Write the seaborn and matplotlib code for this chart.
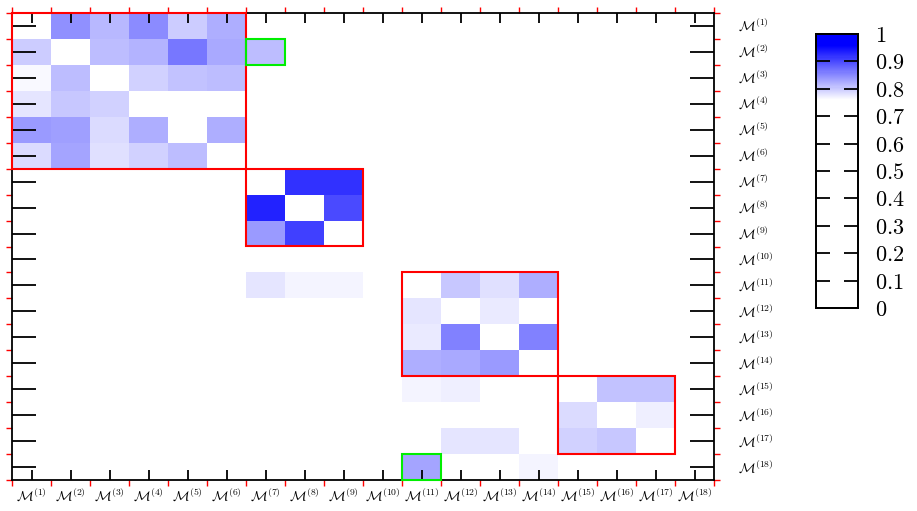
import numpy as np
import pandas as pd
import seaborn as sns
import matplotlib
matplotlib.use("Agg")
import matplotlib.pyplot as plt
from matplotlib.colors import LinearSegmentedColormap
from matplotlib.patches import Rectangle

# Model labels (rows and columns share the same ordering)
models = [rf"$\mathcal{{M}}^{{({k})}}$" for k in range(1, 19)]

# Non-zero pairwise weights: row index, column index (1-based), value
row_idx = [1, 1, 1, 1, 1,
           2, 2, 2, 2, 2, 2,
           3, 3, 3, 3, 3,
           4, 4, 4,
           5, 5, 5, 5, 5,
           6, 6, 6, 6, 6,
           7, 7,
           8, 8,
           9, 9,
           11, 11, 11, 11, 11, 11,
           12, 12,
           13, 13, 13,
           14, 14, 14,
           15, 15, 15, 15,
           16, 16,
           17, 17, 17, 17,
           18, 18]
col_idx = [2, 3, 4, 5, 6,
           1, 3, 4, 5, 6, 7,
           1, 2, 4, 5, 6,
           1, 2, 3,
           1, 2, 3, 4, 6,
           1, 2, 3, 4, 5,
           8, 9,
           7, 9,
           7, 8,
           7, 8, 9, 12, 13, 14,
           11, 13,
           11, 12, 14,
           11, 12, 13,
           11, 12, 16, 17,
           15, 17,
           12, 13, 15, 16,
           11, 14]
weight = [0.847, 0.813, 0.848, 0.800, 0.822,
          0.800, 0.812, 0.818, 0.864, 0.827, 0.809,
          0.762, 0.812, 0.795, 0.805, 0.812,
          0.780, 0.801, 0.795,
          0.839, 0.835, 0.786, 0.822, 0.824,
          0.789, 0.832, 0.784, 0.793, 0.809,
          0.920, 0.920,
          0.933, 0.900,
          0.839, 0.907,
          0.780, 0.769, 0.769, 0.802, 0.782, 0.822,
          0.780, 0.775,
          0.776, 0.858, 0.856,
          0.824, 0.826, 0.838,
          0.769, 0.773, 0.805, 0.805,
          0.786, 0.770,
          0.778, 0.781, 0.794, 0.801,
          0.830, 0.767]

# Clusters (first model index, size) and highlighted single cells (row, col), 1-based
cluster_start = [1, 7, 11, 15]
cluster_size = [6, 3, 4, 3]
highlight_row = [2, 18]
highlight_col = [7, 11]

cbar_ticks = [0, 0.1, 0.2, 0.3, 0.4, 0.5, 0.6, 0.7, 0.8, 0.9, 1.0]
cbar_labels = ["0", "0.1", "0.2", "0.3", "0.4", "0.5", "0.6", "0.7", "0.8", "0.9", "1"]

n = len(models)
mat = np.zeros((n, n))
for r, c, v in zip(row_idx, col_idx, weight):
    mat[r - 1, c - 1] = v
df = pd.DataFrame(mat, index=models, columns=models)

plt.rcParams["mathtext.fontset"] = "cm"

cmap = LinearSegmentedColormap.from_list(
    "white_blue",
    [(0.0, "white"), (0.76, "white"), (0.96, (0, 0, 1)), (1.0, (0, 0, 1))],
)

fig = plt.figure(figsize=(9.17, 5.11), dpi=100)
ax = fig.add_axes([12 / 917, 1 - 480 / 511, 702 / 917, 467 / 511])
cax = fig.add_axes([816 / 917, 1 - 308 / 511, 42 / 917, 274 / 511])

sns.heatmap(df, ax=ax, cbar_ax=cax, cmap=cmap, vmin=0, vmax=1,
            xticklabels=models, yticklabels=models)

# Frame
for s in ax.spines.values():
    s.set_visible(True)
    s.set_color("black")
    s.set_linewidth(1.3)

# Major ticks at cell centres (black, inward); minor ticks at cell edges (red, outward)
ax.set_xticks(np.arange(n + 1), minor=True)
ax.set_yticks(np.arange(n + 1), minor=True)
ax.tick_params(axis="x", which="major", direction="in", length=7, width=1.3,
               color="black", top=True, bottom=True, labelbottom=True,
               labeltop=False, labelsize=10, pad=5, rotation=0)
ax.tick_params(axis="y", which="major", direction="in", length=17, width=1.3,
               color="black", left=True, right=True, labelleft=False,
               labelright=True, labelsize=10, pad=17, rotation=0)
ax.tick_params(which="minor", direction="out", length=4, width=1.0, color="red",
               top=True, bottom=True, left=True, right=True)
for lbl in ax.get_yticklabels():
    lbl.set_rotation(0)
    lbl.set_va("center")
    lbl.set_ha("left")

# Cluster boxes
for st, sz in zip(cluster_start, cluster_size):
    ax.add_patch(Rectangle((st - 1, st - 1), sz, sz, fill=False, edgecolor="red",
                           linewidth=1.5, zorder=5, clip_on=False))
# Highlighted cells
for r, c in zip(highlight_row, highlight_col):
    ax.add_patch(Rectangle((c - 1, r - 1), 1, 1, fill=False, edgecolor="#00ee00",
                           linewidth=1.5, zorder=6, clip_on=False))

# Colorbar styling
cax.set_yticks(cbar_ticks)
cax.set_yticklabels([f"${t}$" for t in cbar_labels])
cax.tick_params(axis="y", which="major", direction="in", length=10, width=1.3,
                left=True, right=True, labelleft=False, labelright=True,
                labelsize=16, pad=12, color="black")
cax.tick_params(which="minor", left=False, right=False)
for s in cax.spines.values():
    s.set_visible(True)
    s.set_linewidth(1.3)
    s.set_color("black")
cbar = ax.collections[0].colorbar
cbar.outline.set_visible(True)
cbar.outline.set_linewidth(1.3)
cbar.outline.set_edgecolor("black")

fig.savefig("out.png", dpi=100)
